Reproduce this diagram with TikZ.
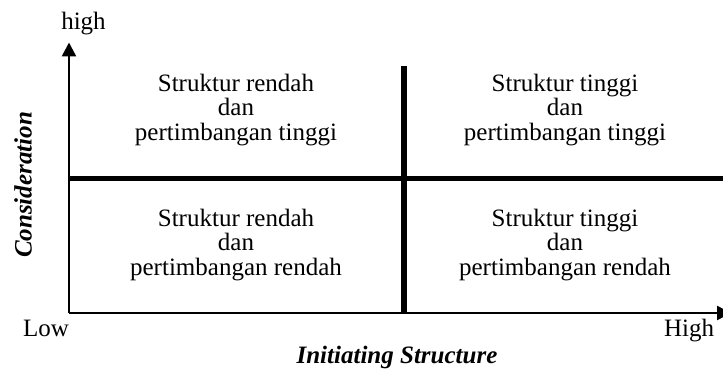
\documentclass[tikz,border=0pt]{standalone}
\usepackage{fontspec}
\setmainfont{Liberation Serif}
\usetikzlibrary{arrows.meta}
\begin{document}
\begin{tikzpicture}[x=1pt,y=1pt,
  axis/.style={line width=2.5pt,-{Triangle[length=14pt,width=14pt]}},
  divider/.style={line width=5.5pt},
  quad/.style={align=center,inner sep=0pt,font=\fontsize{25}{24.5}\selectfont},
  lbl/.style={anchor=base,inner sep=0pt,font=\fontsize{25}{26}\selectfont},
  title/.style={font=\fontsize{25}{26}\selectfont\bfseries\itshape}]
\useasboundingbox (0,0) rectangle (723,370);
\coordinate (o) at (69,57);
\coordinate (ytop) at (69,327.5);
\coordinate (xend) at (731,57);
\draw[divider] (69,191.5) coordinate (hl) -- (723,191.5) coordinate (hr);
\draw[divider] (404,304) coordinate (vt) -- (404,57) coordinate (vb);
\draw[axis] (o) -- (ytop);
\draw[axis] (o) -- (xend);
\node[quad] (q1) at (236,260.3) {Struktur rendah\\dan\\pertimbangan tinggi};
\node[quad] (q2) at (565,260.3) {Struktur tinggi\\dan\\pertimbangan tinggi};
\node[quad] (q3) at (236,125.3) {Struktur rendah\\dan\\pertimbangan rendah};
\node[quad] (q4) at (565,125.3) {Struktur tinggi\\dan\\pertimbangan rendah};
\node[lbl] (high) at (83.5,340) {high};
\node[lbl] (low) at (46,34) {Low};
\node[lbl] (High) at (689,34) {High};
\node[title,anchor=base,inner sep=0pt] (xt) at (397,7) {Initiating Structure};
\node[title,rotate=90,inner sep=0pt] (yt) at (23,185) {Consideration};
\end{tikzpicture}
\end{document}
